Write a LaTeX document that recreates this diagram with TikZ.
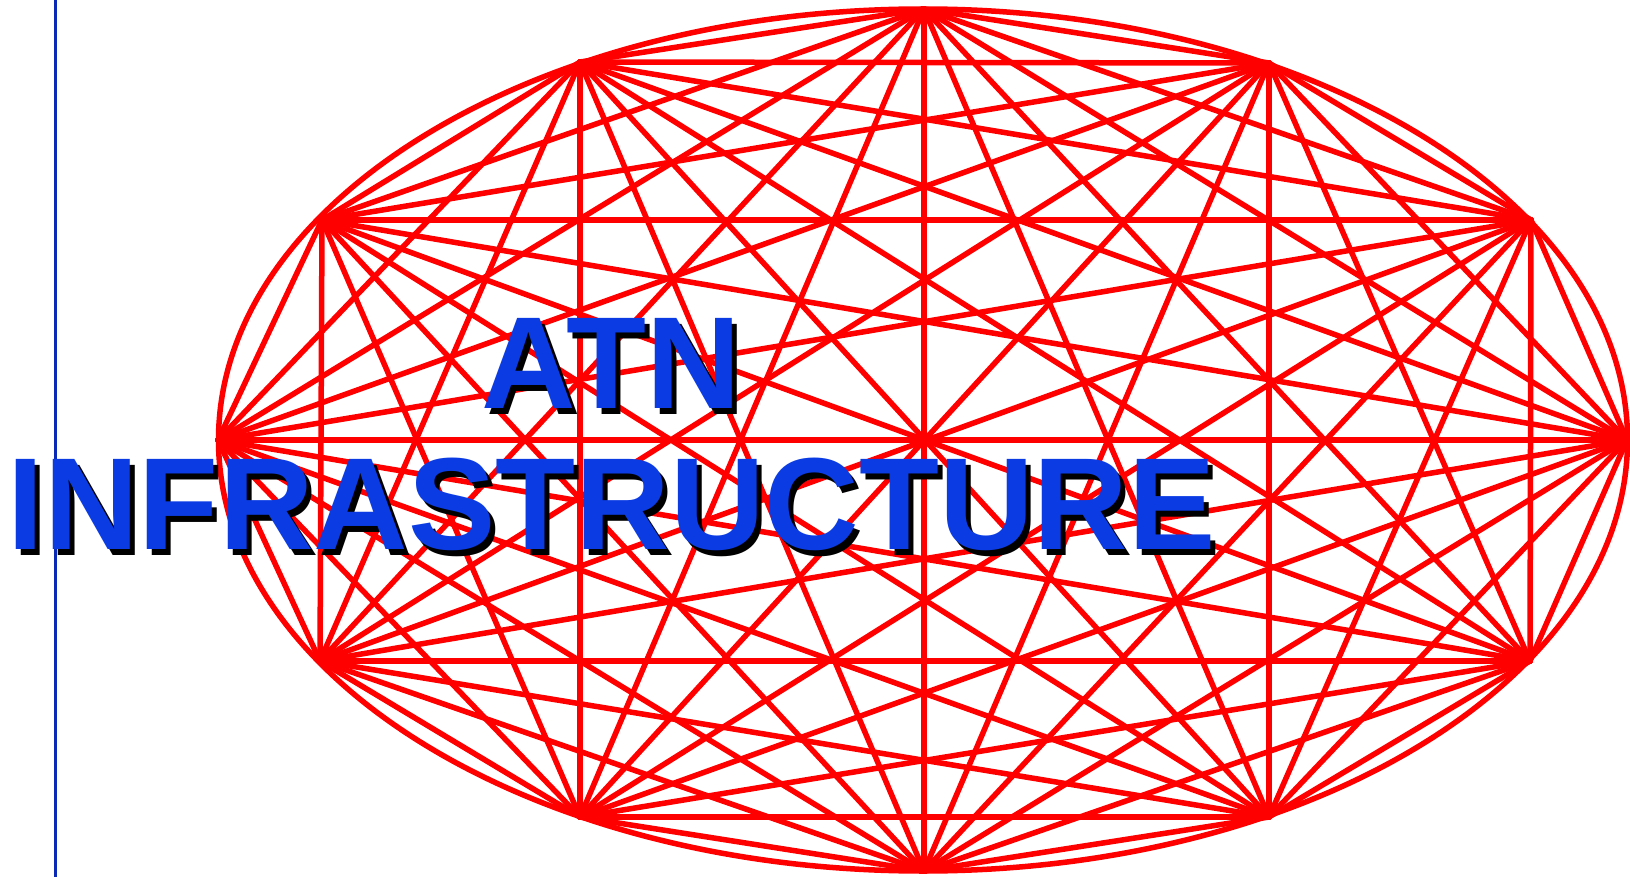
\documentclass[tikz,border=0pt]{standalone}
\usepackage{fontspec}
\setmainfont{Liberation Sans}
\begin{document}
\begin{tikzpicture}[x=1pt,y=-1pt]
\definecolor{color0}{HTML}{FF0000}
\definecolor{color1}{HTML}{0B3CE3}
\definecolor{color2}{HTML}{0A2AB5}
\tikzset{edge/.style={color0,line width=5.5pt,line cap=round},
  title/.style={inner sep=0pt,anchor=base,font=\fontsize{131}{131}\selectfont\bfseries}}
\useasboundingbox (0,0) rectangle (1630,877);
\draw[color2,line width=2.5pt] (55.5,0) -- (55.5,877);
% points round the ellipse
\coordinate (v1) at (924,9);
\coordinate (v2) at (1269,63);
\coordinate (v3) at (1531,220);
\coordinate (v4) at (1627,440);
\coordinate (v5) at (1530,661);
\coordinate (v6) at (1269,817);
\coordinate (v7) at (924,871);
\coordinate (v8) at (580,817);
\coordinate (v9) at (320,661);
\coordinate (v10) at (218,440);
\coordinate (v11) at (322,220);
\coordinate (v12) at (580,62);
\foreach \i [evaluate=\i as \k using int(\i+1)] in {1,...,11}
  \foreach \j in {\k,...,12}
    \draw[edge] (v\i) -- (v\j);
\draw[edge] (923,440) ellipse [x radius=704.5,y radius=431];
\node[title,black] (atnshadow) at (616,414) {ATN};
\node[title,color1] (atn) at (611,408) {ATN};
\node[title,black] (infrashadow) at (617,555) {INFRASTRUCTURE};
\node[title,color1] (infra) at (612,549) {INFRASTRUCTURE};
\end{tikzpicture}
\end{document}
